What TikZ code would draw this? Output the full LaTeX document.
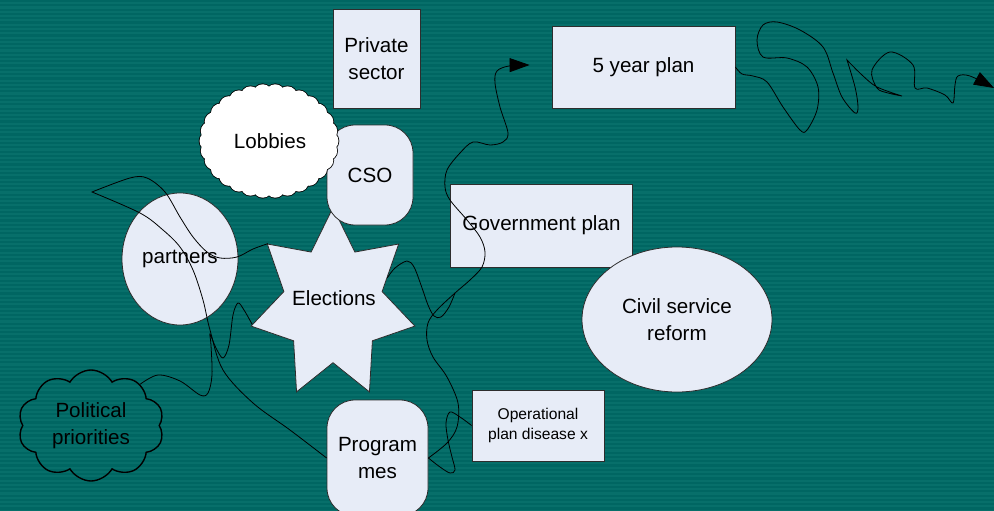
\documentclass[tikz,border=0pt]{standalone}
\usepackage{fontspec}
\setmainfont{Liberation Sans}
\usetikzlibrary{shapes.geometric,shapes.symbols,arrows.meta}
\definecolor{slidebg}{RGB}{0,102,98}
\definecolor{slidestripe}{RGB}{7,111,106}
\definecolor{boxfill}{RGB}{231,236,247}
\definecolor{edge}{RGB}{45,45,45}

\begin{document}
\begin{tikzpicture}[x=1pt,y=-1pt,
  bigtext/.style={font=\fontsize{20.6}{27}\selectfont, align=center, text=black},
  smalltext/.style={font=\fontsize{15.6}{20}\selectfont, align=center, text=black},
  panel/.style={draw=edge, line width=0.8pt, fill=boxfill, inner sep=0pt},
  squarebox/.style={panel, rectangle},
  softbox/.style={panel, rectangle, rounded corners=28pt},
  oval/.style={panel, ellipse},
  puffy/.style={cloud, draw=black, inner sep=0pt, bigtext},
  link/.style={draw=black, line width=0.8pt},
  linkarrow/.style={link, -{Triangle[length=20pt,width=14pt]}},
  wiggle/.style={smooth, tension=0.55},
]
\useasboundingbox (0,0) rectangle (994,511);

% striped slide background
\fill[slidebg] (0,0) rectangle (994,511);
\clip (0,0) rectangle (994,511);
\foreach \k in {0,...,118}
  \fill[slidestripe] (0,{\k*4.3+2.2}) rectangle (994,{\k*4.3+4.3});

% seven-pointed star, stretched vertically
\begin{scope}[shift={(333,304.5)}, yscale=1.155]
  \node[panel, star, star points=7, star point ratio=1.667,
        minimum size=168pt, transform shape] (electionstar) at (0,0) {};
\end{scope}
\node[bigtext] (elections) at (334,298) {Elections};

% boxes
\node[squarebox, bigtext, minimum width=87pt, minimum height=99pt] (private) at (376.5,58.5) {Private\\sector};
\node[squarebox, bigtext, minimum width=183pt, minimum height=82pt] (fiveyear) at (643.5,67) {5 year plan};
\node[squarebox, bigtext, minimum width=182pt, minimum height=83pt] (govplan) at (541.5,225.5) {Government plan};
\node[squarebox, smalltext, minimum width=132pt, minimum height=71pt] (operational) at (538,425.5) {Operational\\plan disease x};
\node[softbox, bigtext, minimum width=86pt, minimum height=100pt] (cso) at (370,175) {CSO};
\node[softbox, bigtext, minimum width=101pt, minimum height=116pt] (programmes) at (377.5,458) {Program\\mes};

% scalloped white cloud: thick outlines first, then white fill over their inner halves
\foreach \i in {0,...,29}
  \draw[black, line width=1.6pt] ({269+60*cos(\i*12)},{141+47.5*sin(\i*12)}) circle[radius=9.5];
\foreach \i in {0,...,29}
  \fill[white] ({269+60*cos(\i*12)},{141+47.5*sin(\i*12)}) circle[radius=9.5];
\fill[white] (269,141) ellipse[x radius=60, y radius=47.5];
\node[bigtext] (lobbies) at (270,141) {Lobbies};

% ellipses
\node[oval, bigtext, minimum width=116pt, minimum height=132pt] (partners) at (180,259) {partners};
\node[oval, bigtext, minimum width=190pt, minimum height=145pt] (civil) at (677,319.5) {Civil service\\reform};

% outlined cloud
\node[puffy, cloud puffs=10, cloud puff arc=120, aspect=1.3, line width=1.4pt,
      minimum width=146pt, minimum height=111pt] (political) at (91,425.5) {Political\\priorities};

% connector end points
\coordinate (fiveyeartip) at ([xshift=-22pt, yshift=2pt]fiveyear.west);
\coordinate (merge) at (455,293);
\coordinate (cusp) at (92,192);
\coordinate (edgetip) at (994,88);

% Programmes up to the 5 year plan
\draw[linkarrow] plot[wiggle] coordinates {(programmes.east) (447,443) (457,427) (458,403) (447,377) (433,357)
  (427,340) (428,323) (437,310) (merge) (470,280) (482,267) (485,252) (480,237) (467,220) (450,200)
  (445,187) (447,170) (460,153) (473,142) (490,145) (503,142) (508,133) (500,107) (495,83) (497,71)
  (509,66) (fiveyeartip)};

% Elections joining that line
\draw[link] plot[wiggle] coordinates {(electionstar.23) (395,268) (407,261) (414,267) (421,285) (428,305)
  (434,316) (441,317) (449,307) (merge)};

% Operational plan loop to Programmes
\draw[link] plot[wiggle] coordinates {(operational.west) (460,417) (450,412) (446,423) (448,440) (452,457)
  (455,470) (450,473) (440,467) (programmes.east)};

% Political priorities to Elections
\draw[link] plot[wiggle] coordinates {(political.40) (158,375) (180,381) (200,395) (208,393) (212,375)
  (211,345) (210,334) (216,348) (223,358) (229,345) (233,315) (238,303) (244,310) (electionstar.192.86)};

% Elections through partners and back down to Programmes
\draw[link] plot[wiggle] coordinates {(electionstar.141.43) (253,249) (237,257) (220,258) (207,252)
  (193,237) (180,217) (165,192) (147,178) (130,178) (cusp)}
  -- plot[wiggle] coordinates {(cusp) (140,213) (163,230) (180,247) (193,270) (203,300) (210,330)
  (223,370) (253,403) (290,430) (programmes.west)};

% 5 year plan onwards, off to the right
\draw[linkarrow] plot[wiggle] coordinates {(fiveyear.east) (742,74) (753,76) (767,82) (783,107) (800,130)
  (807,130) (817,110) (818,87) (807,67) (787,58) (763,57) (757,40) (763,25) (777,22) (800,30) (823,47)
  (833,73) (842,97) (855,113) (858,107) (855,87) (847,60)}
  -- plot[wiggle] coordinates {(847,60) (862,75) (877,87) (902,96)}
  -- plot[wiggle] coordinates {(902,96) (888,93) (877,88) (872,70) (890,52) (913,65) (915,88) (927,88)
  (945,95) (953,103) (955,85) (958,76) (970,76) (edgetip)};
\end{tikzpicture}
\end{document}
